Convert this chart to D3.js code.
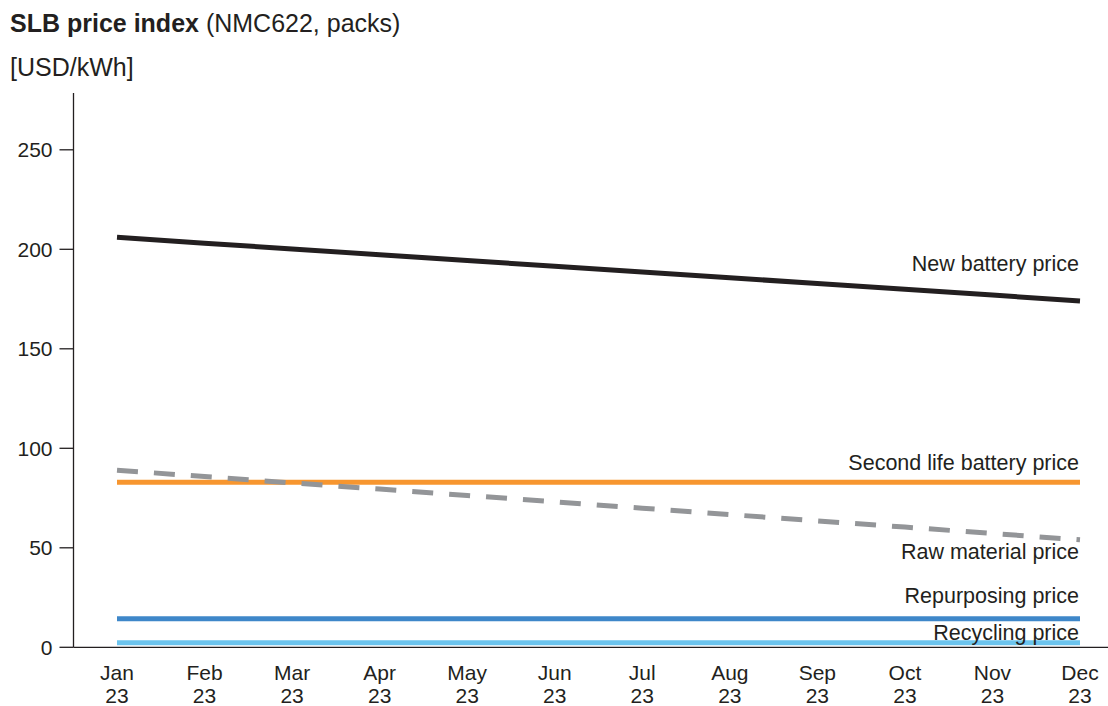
<!DOCTYPE html>
<html>
<head>
<meta charset="utf-8">
<script src="https://cdn.jsdelivr.net/npm/d3@7"></script>
<style>
  body { margin: 0; background: #fff; }
  svg { font-family: "Liberation Sans", Arial, sans-serif; }
</style>
</head>
<body>
<div class="chart"></div>
<script>
const months = ['Jan', 'Feb', 'Mar', 'Apr', 'May', 'Jun', 'Jul', 'Aug', 'Sep', 'Oct', 'Nov', 'Dec'];
const yearLabel = '23';
const yTicks = [0, 50, 100, 150, 200, 250];

// USD/kWh per month
const newBattery = [206, 203.1, 200.2, 197.3, 194.4, 191.5, 188.6, 185.7, 182.8, 179.9, 177, 174];
const secondLife = [83, 83, 83, 83, 83, 83, 83, 83, 83, 83, 83, 83];
const rawMaterial = [89, 85.8, 82.6, 79.5, 76.3, 73.1, 69.9, 66.7, 63.5, 60.4, 57.2, 54];
const repurposing = [14.4, 14.4, 14.4, 14.4, 14.4, 14.4, 14.4, 14.4, 14.4, 14.4, 14.4, 14.4];
const recycling = [2.3, 2.3, 2.3, 2.3, 2.3, 2.3, 2.3, 2.3, 2.3, 2.3, 2.3, 2.3];

const seriesNames = ['New battery price', 'Second life battery price', 'Raw material price', 'Repurposing price', 'Recycling price'];
const seriesValues = [newBattery, secondLife, rawMaterial, repurposing, recycling];
const seriesColors = ['#231f20', '#f7962f', '#939598', '#3e87c9', '#6cc4ee'];
const seriesDash = [null, null, '21,16', null, null];
// baseline offset (px) of each label from the line end
const labelDy = [-30, -12, 19, -16, -3];

const w = 1108;
const h = 706;

const svg = d3.select('.chart').append('svg')
    .attr('width', w)
    .attr('height', h);

const x = d3.scalePoint()
    .domain(months)
    .range([117, 1080]);

const y = d3.scaleLinear()
    .domain([0, 250])
    .range([647.3, 149.8]);

// title
const title = svg.append('text')
    .attr('x', 10)
    .attr('y', 32)
    .style('font-size', '25px')
    .style('fill', '#231f20');
title.append('tspan').style('font-weight', 'bold').text('SLB price index');
title.append('tspan').text(' (NMC622, packs)');

svg.append('text')
    .attr('x', 10)
    .attr('y', 76)
    .style('font-size', '25px')
    .style('fill', '#231f20')
    .text('[USD/kWh]');

// y axis
const yAxis = svg.append('g')
    .attr('transform', 'translate(73.5,0)');
yAxis.append('line')
    .attr('y1', 93).attr('y2', y(0))
    .style('stroke', '#231f20').style('stroke-width', 1.3);
yAxis.selectAll('.ytick')
    .data(yTicks)
    .enter().append('line')
    .attr('class', 'ytick')
    .attr('x1', -14).attr('x2', 0)
    .attr('y1', d => y(d)).attr('y2', d => y(d))
    .style('stroke', '#231f20').style('stroke-width', 1.3);
yAxis.selectAll('.ylabel')
    .data(yTicks)
    .enter().append('text')
    .attr('class', 'ylabel')
    .attr('x', -21)
    .attr('y', d => y(d))
    .attr('dy', '0.35em')
    .attr('text-anchor', 'end')
    .style('font-size', '21px')
    .style('fill', '#231f20')
    .text(d => d);

// x axis
svg.append('line')
    .attr('x1', 73.5).attr('x2', w)
    .attr('y1', y(0)).attr('y2', y(0))
    .style('stroke', '#231f20').style('stroke-width', 1.3);

const xl = svg.selectAll('.xlabel')
    .data(months)
    .enter().append('text')
    .attr('class', 'xlabel')
    .attr('text-anchor', 'middle')
    .style('font-size', '21px')
    .style('fill', '#231f20');
xl.append('tspan')
    .attr('x', d => x(d))
    .attr('y', 680)
    .text(d => d);
xl.append('tspan')
    .attr('x', d => x(d))
    .attr('y', 703)
    .text(yearLabel);

// series
const line = d3.line()
    .x((d, i) => x(months[i]))
    .y(d => y(d));

const series = svg.selectAll('.series')
    .data(seriesNames.map((name, i) => ({
        name: name,
        values: seriesValues[i],
        color: seriesColors[i],
        dash: seriesDash[i],
        dy: labelDy[i]
    })))
    .enter().append('g')
    .attr('class', 'series');

series.append('path')
    .attr('d', d => line(d.values))
    .style('fill', 'none')
    .style('stroke', d => d.color)
    .style('stroke-width', 5)
    .style('stroke-dasharray', d => d.dash);

series.append('text')
    .attr('x', 1079)
    .attr('y', d => y(d.values[d.values.length - 1]) + d.dy)
    .attr('text-anchor', 'end')
    .style('font-size', '21.5px')
    .style('fill', '#231f20')
    .text(d => d.name);
</script>
</body>
</html>
